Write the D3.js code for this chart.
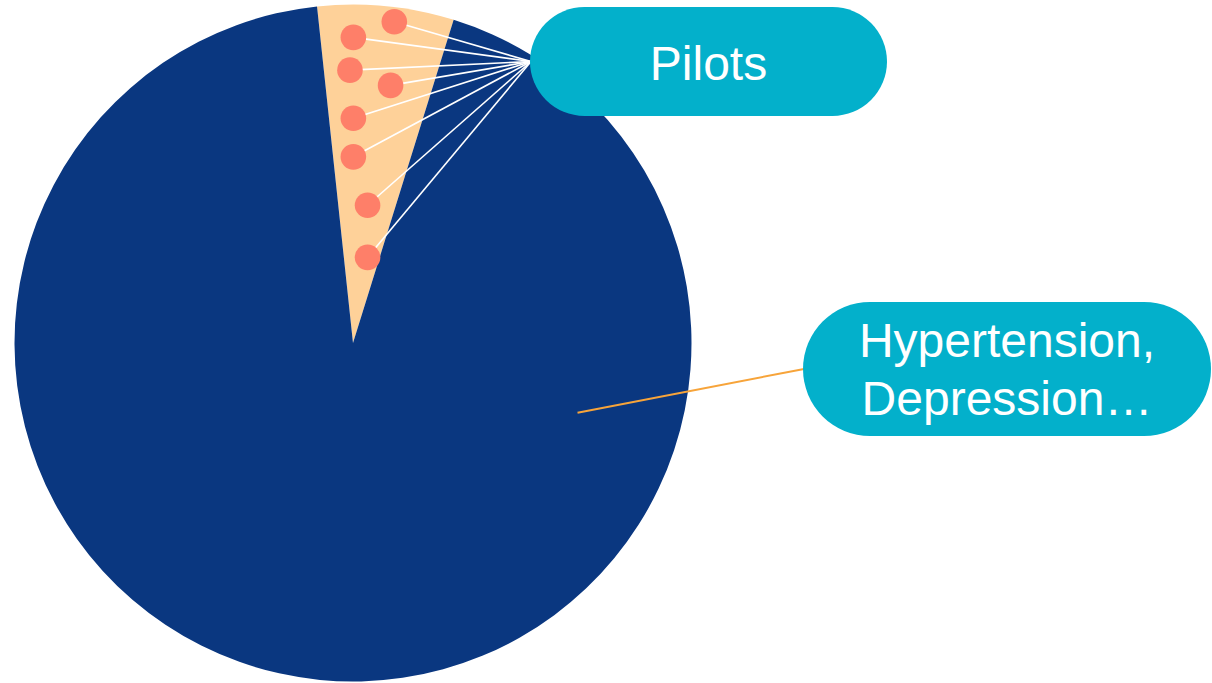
<!DOCTYPE html>
<html>
<head>
<meta charset="utf-8">
<script src="https://cdn.jsdelivr.net/npm/d3@7"></script>
<style>
  html, body { margin: 0; padding: 0; background: #fff; }
  svg { display: block; font-family: "Liberation Sans", Arial, sans-serif; }
</style>
</head>
<body>
<div id="pie"></div>
<script>
// slices
const categories = ['Pilots', 'Hypertension, Depression…'];
const shares = [6.5, 93.5];
const sliceColors = ['#fed199', '#0a3780'];

// dots inside the pilots wedge (units: pie radius = 100, up is positive)
const dotX = [12.2, 0.1, -0.9, 11.1, 0.1, 0.1, 4.3, 4.3];
const dotY = [94.9, 90.3, 80.6, 76.1, 66.4, 55.0, 40.7, 25.3];

const pie = (() => {
    const width = 1212, height = 683;
    const cx = 353, cy = 343, radius = 338.5;
    let svg;

    const appendSVG = () => {
        svg = d3.select('#pie').append('svg')
          .attr('width', width)
          .attr('height', height);
    };

    const drawPie = () => {
        const start = -6.1 * Math.PI / 180;
        const arcs = d3.pie().sort(null)
          .startAngle(start)
          .endAngle(start + 2 * Math.PI)(shares);

        svg.append('g')
          .attr('transform', `translate(${cx}, ${cy})`)
          .selectAll('path')
          .data(arcs)
          .enter()
          .append('path')
          .attr('d', d3.arc().innerRadius(0).outerRadius(radius))
          .attr('fill', (d, i) => sliceColors[i]);
    };

    const drawDots = (anchor) => {
        const x = d3.scaleLinear().domain([0, 100]).range([cx, cx + radius]);
        const y = d3.scaleLinear().domain([0, 100]).range([cy, cy - radius]);
        const dots = dotX.map((v, i) => ({x: x(v), y: y(dotY[i])}));

        svg.append('g').selectAll('line')
          .data(dots)
          .enter()
          .append('line')
          .attr('x1', d => d.x).attr('y1', d => d.y)
          .attr('x2', anchor[0]).attr('y2', anchor[1])
          .attr('stroke', '#fff')
          .attr('stroke-width', 1.6);

        svg.append('g').selectAll('circle')
          .data(dots)
          .enter()
          .append('circle')
          .attr('cx', d => d.x).attr('cy', d => d.y)
          .attr('r', 12.8)
          .attr('fill', '#fe7f69');
    };

    const bubble = (box, lines, baseline, lineGap) => {
        const g = svg.append('g');
        g.append('rect')
          .attr('x', box.x).attr('y', box.y)
          .attr('width', box.w).attr('height', box.h)
          .attr('rx', box.h / 2).attr('ry', box.h / 2)
          .attr('fill', '#03b0cb');
        g.selectAll('text')
          .data(lines)
          .enter()
          .append('text')
          .attr('x', box.x + box.w / 2)
          .attr('y', (d, i) => baseline + i * lineGap)
          .attr('text-anchor', 'middle')
          .attr('font-size', 48)
          .attr('fill', '#fff')
          .text(d => d);
    };

    const draw = () => {
        appendSVG();
        drawPie();

        const pilotsBox = {x: 530, y: 7, w: 357, h: 109};
        drawDots([pilotsBox.x + 1, pilotsBox.y + pilotsBox.h / 2]);
        bubble(pilotsBox, [categories[0]], 79.5, 0);

        const otherBox = {x: 803, y: 302, w: 408, h: 134};
        svg.append('line')
          .attr('x1', 577.5).attr('y1', 412.7)
          .attr('x2', otherBox.x + 1).attr('y2', otherBox.y + otherBox.h / 2)
          .attr('stroke', '#f7a43a')
          .attr('stroke-width', 2);
        bubble(otherBox, ['Hypertension,', 'Depression…'], 357, 58);
    };

    return {
        draw: draw
    }
})();

pie.draw();
</script>
</body>
</html>
